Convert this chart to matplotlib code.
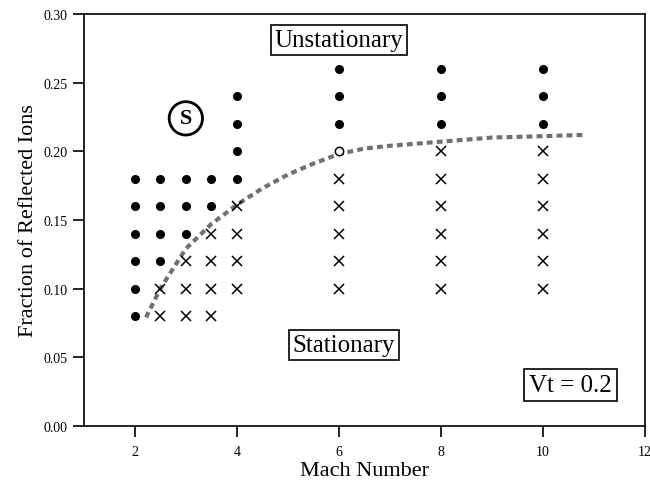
import matplotlib
matplotlib.use("Agg")
import matplotlib.pyplot as plt

plt.rcParams['font.family'] = ['Liberation Serif', 'DejaVu Serif']

# unstable (filled circles)
unstable_m = [2, 2, 2, 2, 2, 2,
              2.5, 2.5, 2.5, 2.5,
              3, 3, 3,
              3.5, 3.5,
              4, 4, 4, 4,
              6, 6, 6,
              8, 8, 8,
              10, 10, 10]
unstable_f = [0.08, 0.10, 0.12, 0.14, 0.16, 0.18,
              0.12, 0.14, 0.16, 0.18,
              0.14, 0.16, 0.18,
              0.16, 0.18,
              0.18, 0.20, 0.22, 0.24,
              0.22, 0.24, 0.26,
              0.22, 0.24, 0.26,
              0.22, 0.24, 0.26]

# stable (crosses)
stable_m = [2.5, 2.5,
            3, 3, 3,
            3.5, 3.5, 3.5, 3.5,
            4, 4, 4, 4,
            6, 6, 6, 6, 6,
            8, 8, 8, 8, 8, 8,
            10, 10, 10, 10, 10, 10]
stable_f = [0.08, 0.10,
            0.08, 0.10, 0.12,
            0.08, 0.10, 0.12, 0.14,
            0.10, 0.12, 0.14, 0.16,
            0.10, 0.12, 0.14, 0.16, 0.18,
            0.10, 0.12, 0.14, 0.16, 0.18, 0.20,
            0.10, 0.12, 0.14, 0.16, 0.18, 0.20]

# marginal (open circle)
marginal_m = [6]
marginal_f = [0.20]

# boundary curve
bound_m = [2.22, 2.5, 3.0, 3.5, 4.0, 4.5, 5.0, 5.5, 6.0, 6.5, 7.0, 8.0, 9.0, 10.0, 10.85]
bound_f = [0.079, 0.100, 0.129, 0.147, 0.161, 0.173, 0.183, 0.191, 0.198, 0.202, 0.204, 0.207, 0.210, 0.211, 0.212]

fig = plt.figure(figsize=(6.5, 4.85), dpi=100)
ax = fig.add_axes([0.129, 0.12, 0.863, 0.849])

ax.plot(bound_m, bound_f, color='#707070', lw=3, ls=(0, (1.4, 1.0)), zorder=1)
ax.plot(unstable_m, unstable_f, 'o', color='black', ms=5.5, zorder=3)
ax.plot(stable_m, stable_f, 'x', color='black', ms=7, mew=1.1, zorder=3)
ax.plot(marginal_m, marginal_f, 'o', mfc='white', mec='black', ms=6, mew=1.1, zorder=3)

ax.set_xlim(1, 12)
ax.set_ylim(0, 0.30)
ax.set_xticks([2, 4, 6, 8, 10, 12])
ax.set_yticks([0.0, 0.05, 0.10, 0.15, 0.20, 0.25, 0.30])
ax.set_yticklabels(['0.00', '0.05', '0.10', '0.15', '0.20', '0.25', '0.30'])
ax.tick_params(direction='out', length=8, width=1.2, labelsize=10, top=False, right=False)
ax.tick_params(axis='x', pad=6)
for s in ax.spines.values():
    s.set_linewidth(1.2)

ax.set_xlabel('Mach Number', fontsize=16, labelpad=2)
ax.set_ylabel('Fraction of Reflected Ions', fontsize=16)

box = dict(boxstyle='square,pad=0.15', fc='white', ec='black', lw=1.2)
ax.text(6.0, 0.281, 'Unstationary', fontsize=18, ha='center', va='center', bbox=box)
ax.text(6.1, 0.059, 'Stationary', fontsize=18, ha='center', va='center', bbox=box)
ax.text(10.55, 0.030, 'Vt = 0.2', fontsize=18, ha='center', va='center',
        bbox=dict(boxstyle='square,pad=0.2', fc='white', ec='black', lw=1.2))
ax.text(3.0, 0.224, 'S', fontsize=16, fontweight='bold', ha='center', va='center',
        bbox=dict(boxstyle='circle,pad=0.3', fc='white', ec='black', lw=2))

fig.savefig('out.png', dpi=100)
